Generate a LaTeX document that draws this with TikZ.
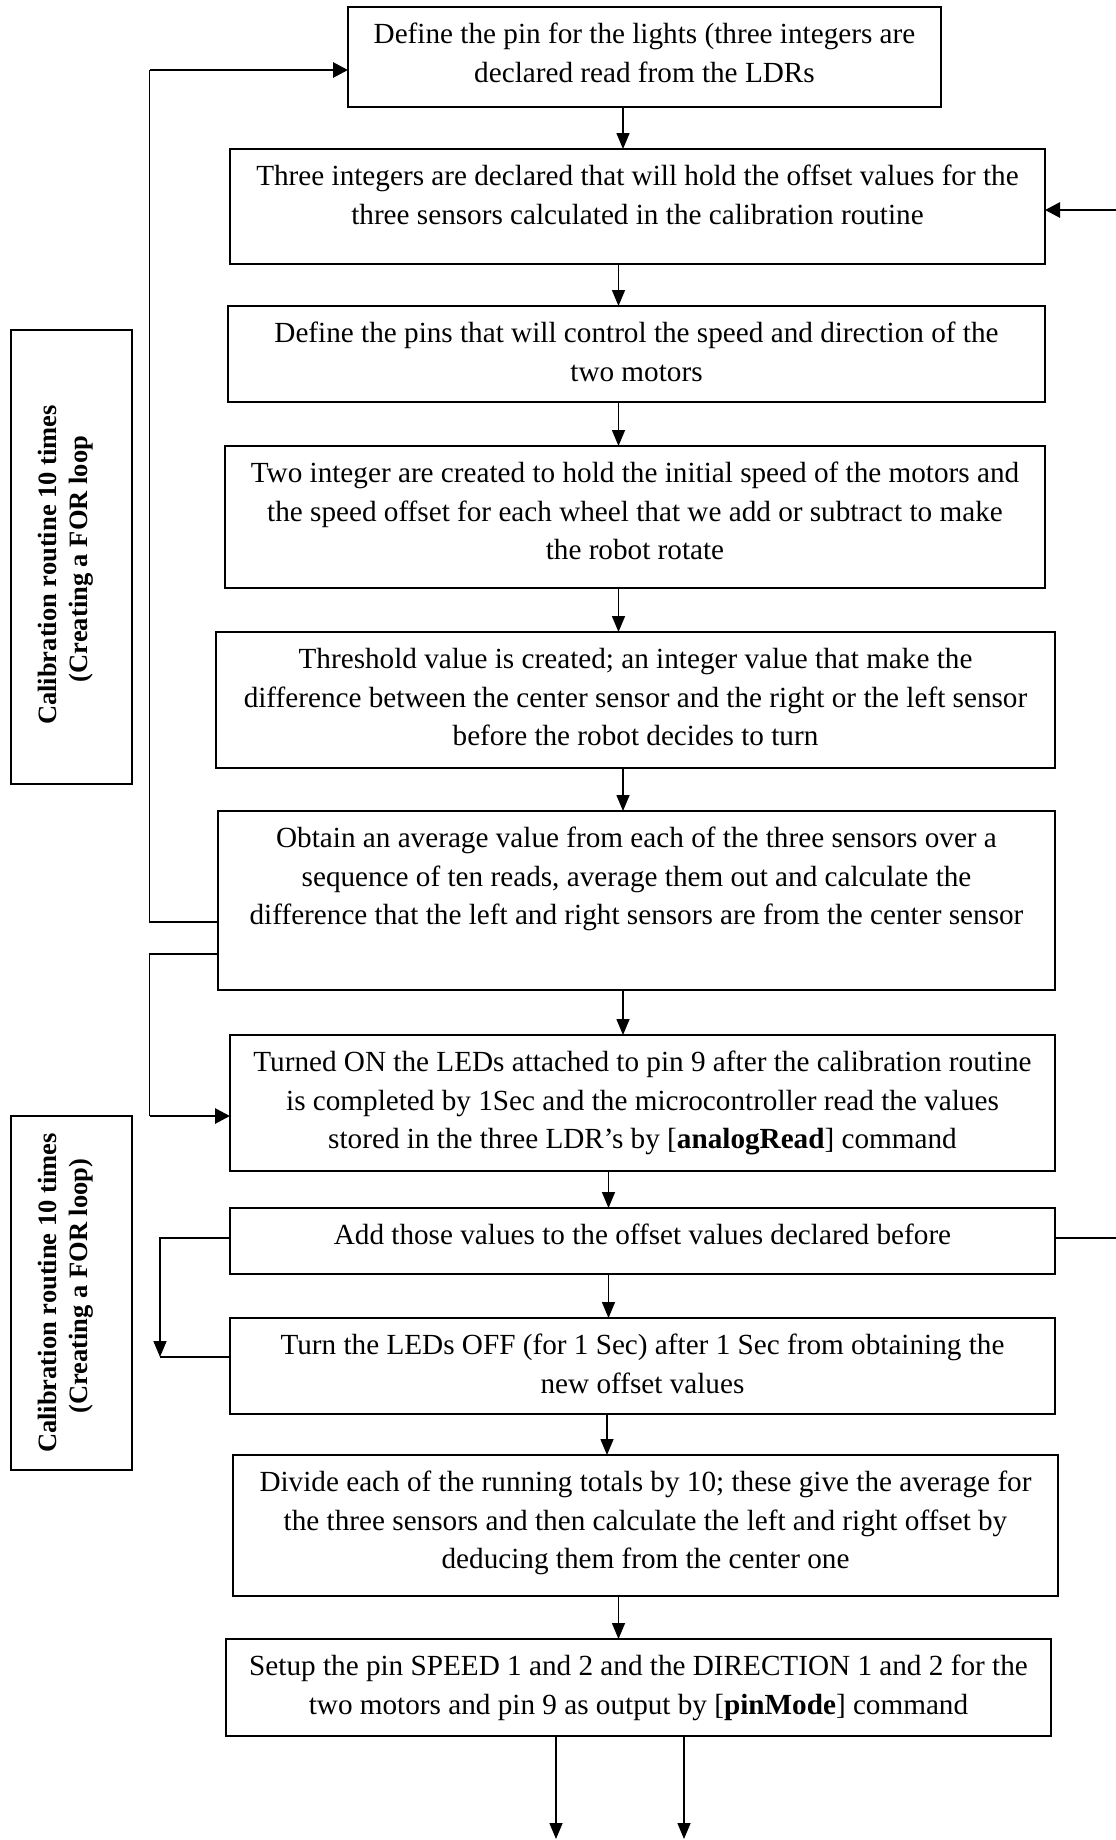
\documentclass[tikz,border=0pt]{standalone}
\usepackage{fontspec}
\setmainfont{Liberation Serif}
\usetikzlibrary{arrows.meta,calc}
\newcommand\bxtext[3]{\parbox[c][#2][t]{#1}{\fontsize{29.2pt}{38.7pt}\selectfont\centering\rule{0pt}{36.5pt}#3\par}}
\begin{document}
\begin{tikzpicture}[x=1pt,y=-1pt,
  flowbox/.style={draw, line width=1.8pt, inner sep=0pt, outer sep=0pt, anchor=north west},
  calbox/.style={draw, line width=1.8pt, inner sep=0pt, outer sep=0pt, anchor=north west},
  caltext/.style={rotate=90, align=center, inner sep=0pt, font=\bfseries\fontsize{26.5pt}{31pt}\selectfont},
  ln/.style={line width=1.5pt},
  arr/.style={line width=1.5pt, -{Triangle[length=16pt,width=13pt]}},
  thickarr/.style={line width=2.8pt, -{Triangle[length=15pt,width=15pt]}},
]
\useasboundingbox (0,0) rectangle (1116,1840);

% main boxes
\node[flowbox] (b1) at (348,7) {\bxtext{593pt}{100pt}{Define the pin for the lights (three integers are\\declared read from the LDRs}};
\node[flowbox] (b2) at (230,149) {\bxtext{815pt}{115pt}{Three integers are declared that will hold the offset values for the\\three sensors calculated in the calibration routine}};
\node[flowbox] (b3) at (228,306) {\bxtext{817pt}{96pt}{Define the pins that will control the speed and direction of the\\two motors}};
\node[flowbox] (b4) at (225,446) {\bxtext{820pt}{142pt}{Two integer are created to hold the initial speed of the motors and\\the speed offset for each wheel that we add or subtract to make\\the robot rotate}};
\node[flowbox] (b5) at (216,632) {\bxtext{839pt}{136pt}{Threshold value is created; an integer value that make the\\difference between the center sensor and the right or the left sensor\\before the robot decides to turn}};
\node[flowbox] (b6) at (218,811) {\bxtext{837pt}{179pt}{Obtain an average value from each of the three sensors over a\\sequence of ten reads, average them out and calculate the\\difference that the left and right sensors are from the center sensor}};
\node[flowbox] (b7) at (230,1035) {\bxtext{825pt}{136pt}{Turned ON the LEDs attached to pin 9 after the calibration routine\\is completed by 1Sec and the microcontroller read the values\\stored in the three LDR’s by [\textbf{analogRead}] command}};
\node[flowbox] (b8) at (230,1208) {\bxtext{825pt}{66pt}{Add those values to the offset values declared before}};
\node[flowbox] (b9) at (230,1318) {\bxtext{825pt}{96pt}{Turn the LEDs OFF (for 1 Sec) after 1 Sec from obtaining the\\new offset values}};
\node[flowbox] (b10) at (233,1455) {\bxtext{825pt}{141pt}{Divide each of the running totals by 10; these give the average for\\the three sensors and then calculate the left and right offset by\\deducing them from the center one}};
\node[flowbox] (b11) at (226,1639) {\bxtext{825pt}{97pt}{Setup the pin SPEED 1 and 2 and the DIRECTION 1 and 2 for the\\two motors and pin 9 as output by [\textbf{pinMode}] command}};

% calibration boxes
\node[calbox, minimum width=121pt, minimum height=454pt] (c1) at (11,330) {};
\node[caltext] (c1t) at ($(c1.center)+(-6,8)$) {Calibration routine 10 times\\\hspace*{12pt}(Creating a FOR loop};
\node[calbox, minimum width=121pt, minimum height=354pt] (c2) at (11,1116) {};
\node[caltext] (c2t) at ($(c2.center)+(-6,0)$) {Calibration routine 10 times\\\hspace*{14pt}(Creating a FOR loop)};

% helper coordinates
\coordinate (colA) at (623,0);
\coordinate (colB) at (618.5,0);
\coordinate (colC) at (608.5,0);
\coordinate (colD) at (607,0);
\coordinate (r922) at (0,922);
\coordinate (r954) at (0,954);
\coordinate (r1238) at (0,1238);
\coordinate (k1) at (149.5,70);
\coordinate (k2) at (149.5,1116);
\coordinate (k3) at (160,1357);
\coordinate (e1) at (1116,1238);
\coordinate (e2) at (1116,210);
\coordinate (o1) at (556,1839);
\coordinate (o2) at (684,1839);

% main flow arrows
\draw[arr] (b1.south -| colA) -- (b2.north -| colA);
\draw[arr] (b2.south -| colB) -- (b3.north -| colB);
\draw[arr] (b3.south -| colB) -- (b4.north -| colB);
\draw[arr] (b4.south -| colB) -- (b5.north -| colB);
\draw[arr] (b5.south -| colA) -- (b6.north -| colA);
\draw[arr] (b6.south -| colA) -- (b7.north -| colA);
\draw[arr] (b7.south -| colC) -- (b8.north -| colC);
\draw[arr] (b8.south -| colC) -- (b9.north -| colC);
\draw[arr] (b9.south -| colD) -- (b10.north -| colD);
\draw[arr] (b10.south -| colB) -- (b11.north -| colB);
\draw[arr] (b11.south -| o1) -- (o1);
\draw[arr] (b11.south -| o2) -- (o2);

% loops
\draw[ln] (b6.west |- r922) -| (k1);
\draw[thickarr] (k1) -- (b1.west |- k1);
\draw[ln] (b6.west |- r954) -| (k2);
\draw[thickarr] (k2) -- (b7.west |- k2);
\draw[arr] (b8.west |- r1238) -| (k3);
\draw[ln] (k3) -- (b9.west |- k3);
\draw[ln] (b8.east |- r1238) -- (e1);
\draw[thickarr] (e2) -- (b2.east |- e2);
\end{tikzpicture}
\end{document}
